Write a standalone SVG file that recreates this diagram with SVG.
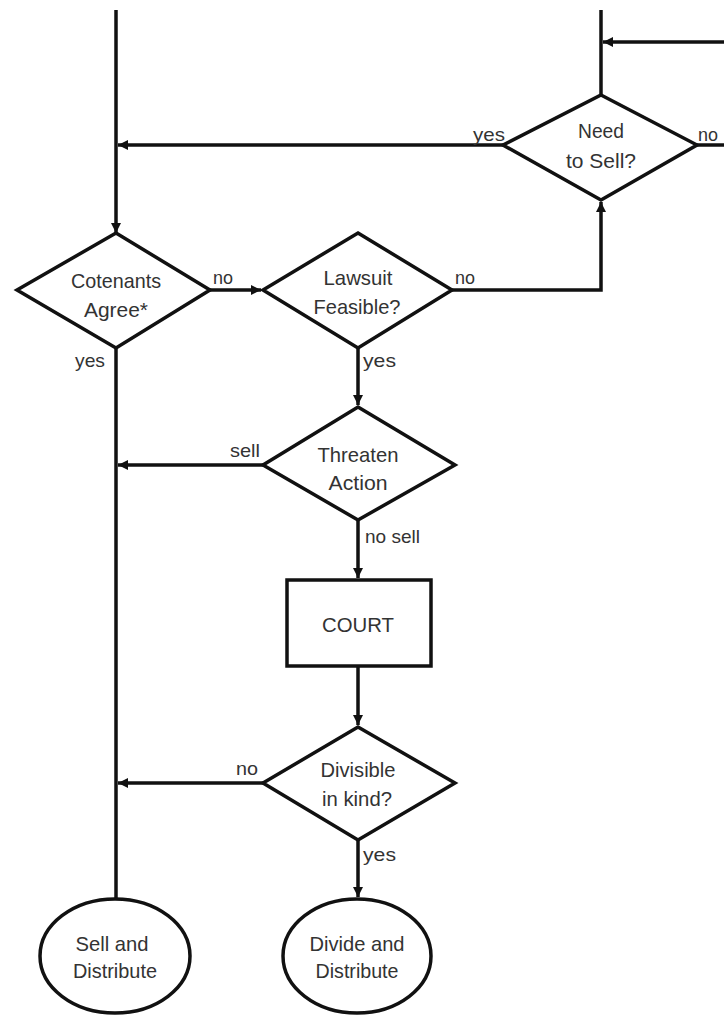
<svg xmlns="http://www.w3.org/2000/svg" width="724" height="1015" viewBox="0 0 724 1015">
<defs>
<style>
.s{fill:#fff;stroke:#111;stroke-width:3.5;stroke-linejoin:miter}
.c{fill:none;stroke:#111;stroke-width:3.5}
.t{font-family:"Liberation Sans",Arial,sans-serif;font-size:21px;fill:#333;text-anchor:middle}
.l{font-family:"Liberation Sans",Arial,sans-serif;font-size:19px;fill:#333}
</style>
<marker id="a" markerUnits="userSpaceOnUse" markerWidth="12" markerHeight="12" viewBox="0 0 12 12" refX="11" refY="6" orient="auto">
<path d="M1,1 L11,6 L1,11 Z" fill="#111"/>
</marker>
</defs>
<rect width="724" height="1015" fill="#fff"/>
<g id="connectors">
<path class="c" d="M116,10 V233" marker-end="url(#a)"/>
<path class="c" d="M601,10 V95"/>
<path class="c" d="M724,42 H603" marker-end="url(#a)"/>
<path class="c" d="M503,145 H118" marker-end="url(#a)"/>
<path class="c" d="M697,145 H724"/>
<path class="c" d="M210,290 H261" marker-end="url(#a)"/>
<path class="c" d="M452,290 H601 V202" marker-end="url(#a)"/>
<path class="c" d="M116,348 V898"/>
<path class="c" d="M358,348 V405" marker-end="url(#a)"/>
<path class="c" d="M263,465 H118" marker-end="url(#a)"/>
<path class="c" d="M358,520 V578" marker-end="url(#a)"/>
<path class="c" d="M358,666 V725" marker-end="url(#a)"/>
<path class="c" d="M263,783 H118" marker-end="url(#a)"/>
<path class="c" d="M358,840 V897" marker-end="url(#a)"/>
<text class="l" x="473" y="141" textLength="32" lengthAdjust="spacingAndGlyphs">yes</text>
<text class="l" x="698" y="141" textLength="20" lengthAdjust="spacingAndGlyphs">no</text>
<text class="l" x="213" y="284" textLength="20" lengthAdjust="spacingAndGlyphs">no</text>
<text class="l" x="455" y="284" textLength="20" lengthAdjust="spacingAndGlyphs">no</text>
<text class="l" x="75" y="367" textLength="30" lengthAdjust="spacingAndGlyphs">yes</text>
<text class="l" x="363" y="367" textLength="33" lengthAdjust="spacingAndGlyphs">yes</text>
<text class="l" x="230" y="457" textLength="30" lengthAdjust="spacingAndGlyphs">sell</text>
<text class="l" x="365" y="543" textLength="55" lengthAdjust="spacingAndGlyphs">no sell</text>
<text class="l" x="236" y="775" textLength="22" lengthAdjust="spacingAndGlyphs">no</text>
<text class="l" x="363" y="861" textLength="33" lengthAdjust="spacingAndGlyphs">yes</text>
</g>
<g id="need-to-sell">
<polygon class="s" points="601,95 697,145 601,200 503,145"/>
<text class="t" x="601" y="138" textLength="46" lengthAdjust="spacingAndGlyphs">Need</text>
<text class="t" x="601" y="168" textLength="70" lengthAdjust="spacingAndGlyphs">to Sell?</text>
</g>
<g id="cotenants-agree">
<polygon class="s" points="116,233 210,290 116,348 17,290"/>
<text class="t" x="116" y="288" textLength="90" lengthAdjust="spacingAndGlyphs">Cotenants</text>
<text class="t" x="116" y="317" textLength="64" lengthAdjust="spacingAndGlyphs">Agree*</text>
</g>
<g id="lawsuit-feasible">
<polygon class="s" points="358,233 452,290 358,348 263,290"/>
<text class="t" x="358" y="285" textLength="69" lengthAdjust="spacingAndGlyphs">Lawsuit</text>
<text class="t" x="357" y="314" textLength="87" lengthAdjust="spacingAndGlyphs">Feasible?</text>
</g>
<g id="threaten-action">
<polygon class="s" points="358,407 455,465 358,520 263,465"/>
<text class="t" x="358" y="462" textLength="81" lengthAdjust="spacingAndGlyphs">Threaten</text>
<text class="t" x="358" y="490" textLength="59" lengthAdjust="spacingAndGlyphs">Action</text>
</g>
<g id="court">
<rect class="s" x="287" y="580" width="144" height="86"/>
<text class="t" x="358" y="632" textLength="72" lengthAdjust="spacingAndGlyphs">COURT</text>
</g>
<g id="divisible">
<polygon class="s" points="358,727 455,783 358,840 263,783"/>
<text class="t" x="358" y="777" textLength="75" lengthAdjust="spacingAndGlyphs">Divisible</text>
<text class="t" x="357" y="806" textLength="70" lengthAdjust="spacingAndGlyphs">in kind?</text>
</g>
<g id="sell-distribute">
<ellipse class="s" cx="115" cy="956" rx="75" ry="57"/>
<text class="t" x="112" y="951" textLength="73" lengthAdjust="spacingAndGlyphs">Sell and</text>
<text class="t" x="115" y="978" textLength="84" lengthAdjust="spacingAndGlyphs">Distribute</text>
</g>
<g id="divide-distribute">
<ellipse class="s" cx="357" cy="956" rx="74" ry="57"/>
<text class="t" x="357" y="951" textLength="95" lengthAdjust="spacingAndGlyphs">Divide and</text>
<text class="t" x="357" y="978" textLength="83" lengthAdjust="spacingAndGlyphs">Distribute</text>
</g>
</svg>
